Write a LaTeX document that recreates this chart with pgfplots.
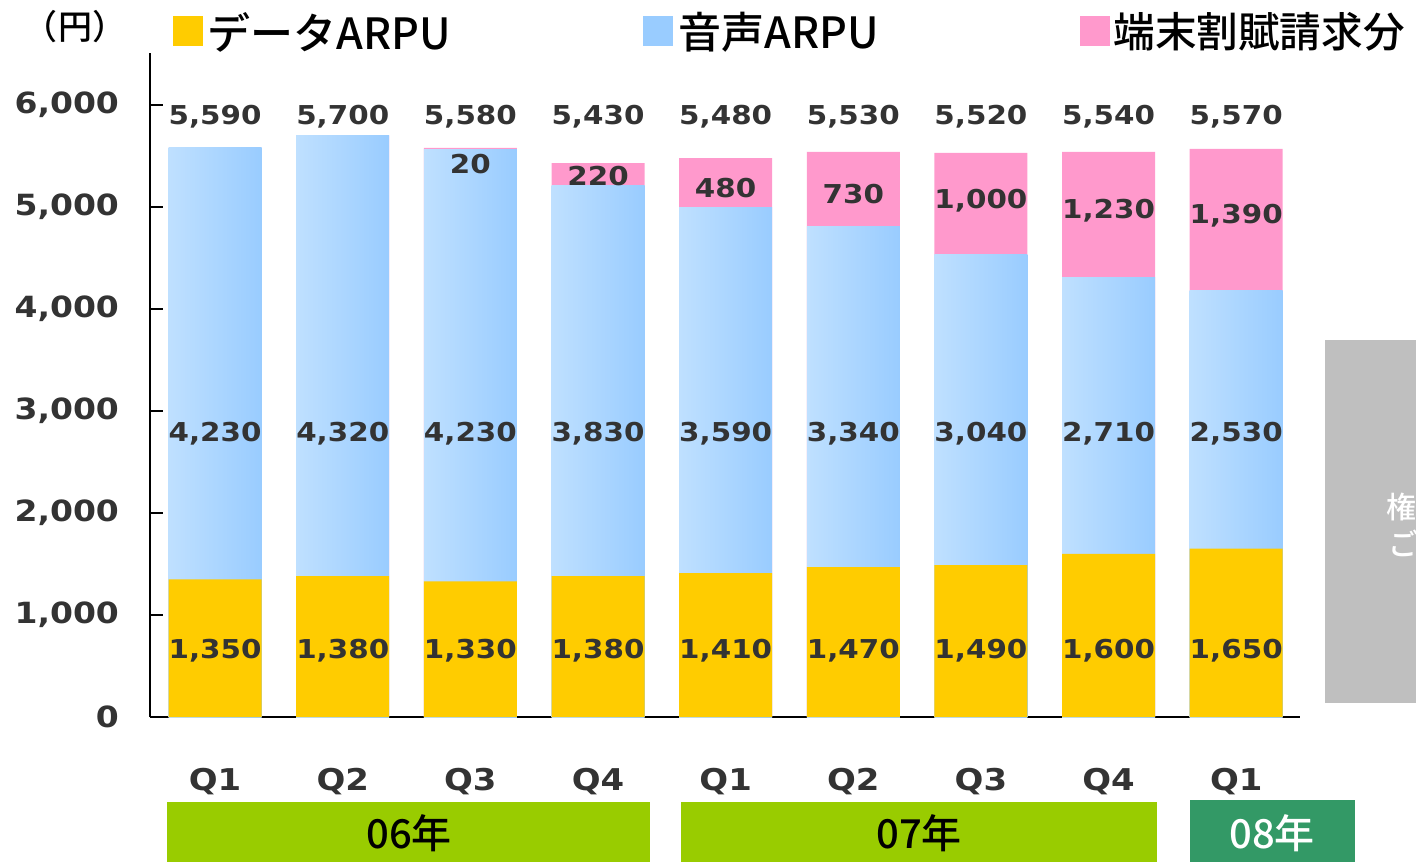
\documentclass[border=0pt]{standalone}
\usepackage{pgfplots}
\pgfplotsset{compat=1.18}
\usepackage{fontspec}
\setmainfont{DejaVu Sans}
\newfontfamily\jp{Noto Sans CJK JP Medium}
\newfontfamily\numfont{DejaVu Sans}[FakeStretch=1.13]
\definecolor{dataY}{HTML}{FFCC00}
\definecolor{voiceL}{HTML}{BFE0FF}
\definecolor{voiceM}{HTML}{B6DAFF}
\definecolor{voiceR}{HTML}{99CCFF}
\definecolor{pinkC}{HTML}{FF99CC}
\definecolor{txt}{HTML}{333333}
\definecolor{bandA}{HTML}{99CC00}
\definecolor{bandB}{HTML}{339966}
\definecolor{grayR}{HTML}{BFBFBF}
\pgfplotsset{vbar/.style={draw=none, left color=voiceL, middle color=voiceM, right color=voiceR}}
\begin{document}
\begin{tikzpicture}
\useasboundingbox (0,0) rectangle (708pt,430.5pt);
% gray box at right
\fill[grayR] (662.5pt,79pt) rectangle (720pt,260.5pt);
\node[anchor=west, text=white, font=\jp\fontsize{15}{18}\selectfont, inner sep=0pt] at (693pt,177pt) {権};
\node[anchor=west, text=white, font=\jp\fontsize{15}{18}\selectfont, inner sep=0pt] at (694pt,159pt) {ご};
\begin{axis}[
  at={(75pt,72pt)}, anchor=south west, scale only axis,
  width=575pt, height=332pt,
  xmin=-0.51, xmax=8.5, ymin=0, ymax=6510,
  ybar, bar shift=0pt, bar width=46.5pt,
  axis x line*=bottom, axis y line*=left,
  x axis line style={-, line width=1.2pt, black},
  y axis line style={-, line width=0.8pt, black},
  ytick={0,1000,2000,3000,4000,5000,6000},
  /pgf/number format/1000 sep={,},
  /pgf/number format/assume math mode=true,
  yticklabel style={font=\numfont\bfseries\fontsize{14.6}{16}\selectfont, text=txt, xshift=-12pt},
  ytick style={line width=0.8pt, black},
  tick align=inside, major tick length=6.5pt,
  xtick={0,1,2,3,4,5,6,7,8},
  xticklabels={Q1,Q2,Q3,Q4,Q1,Q2,Q3,Q4,Q1},
  xtick style={draw=none},
  xticklabel style={font=\numfont\bfseries\fontsize{15}{17}\selectfont, text=txt, yshift=-22pt},
]
% top of each bar: data + voice + handset instalment (pink shows above the voice part)
\addplot[fill=pinkC, draw=none] coordinates {(0,5580) (1,5700) (2,5580) (3,5430) (4,5480) (5,5540) (6,5530) (7,5540) (8,5570)};
% data + voice, one plot per bar so that each bar has its own shading
\addplot[vbar] coordinates {(0,5580)};
\addplot[vbar] coordinates {(1,5700)};
\addplot[vbar] coordinates {(2,5560)};
\addplot[vbar] coordinates {(3,5210)};
\addplot[vbar] coordinates {(4,5000)};
\addplot[vbar] coordinates {(5,4810)};
\addplot[vbar] coordinates {(6,4530)};
\addplot[vbar] coordinates {(7,4310)};
\addplot[vbar] coordinates {(8,4180)};
% data ARPU
\addplot[fill=dataY, draw=none] coordinates {(0,1350) (1,1380) (2,1330) (3,1380) (4,1410) (5,1470) (6,1490) (7,1600) (8,1650)};
\end{axis}
\begin{axis}[
  at={(75pt,72pt)}, anchor=south west, scale only axis,
  width=575pt, height=332pt,
  xmin=-0.51, xmax=8.5, ymin=0, ymax=6510, hide axis,
]
\addplot[only marks, mark size=0pt, nodes near coords, point meta=explicit symbolic,
  every node near coord/.append style={anchor=center, font=\numfont\bfseries\fontsize{13}{15}\selectfont, text=txt}]
  table[meta=lab] {
x y lab
0 5890 5,590
1 5890 5,700
2 5890 5,580
3 5890 5,430
4 5890 5,480
5 5890 5,530
6 5890 5,520
7 5890 5,540
8 5890 5,570
0 2780 4,230
1 2780 4,320
2 2780 4,230
3 2780 3,830
4 2780 3,590
5 2780 3,340
6 2780 3,040
7 2780 2,710
8 2780 2,530
0 650 1,350
1 650 1,380
2 650 1,330
3 650 1,380
4 650 1,410
5 650 1,470
6 650 1,490
7 650 1,600
8 650 1,650
2 5420 20
3 5300 220
4 5190 480
5 5130 730
6 5060 1,000
7 4960 1,230
8 4910 1,390
};
\end{axis}
% legend
\fill[dataY] (86.5pt,407.5pt) rectangle (101.5pt,422.5pt);
\node[anchor=west, inner sep=0pt, font=\jp\fontsize{21.5}{26}\selectfont] at (103.5pt,414.5pt) {データARPU};
\fill[voiceR] (321.5pt,407.5pt) rectangle (336.5pt,422.5pt);
\node[anchor=west, inner sep=0pt, font=\jp\fontsize{21.5}{26}\selectfont] at (339pt,414.5pt) {音声ARPU};
\fill[pinkC] (540pt,407.5pt) rectangle (555pt,422.5pt);
\node[anchor=west, inner sep=0pt, font=\jp\fontsize{20.8}{26}\selectfont] at (556.5pt,414.5pt) {端末割賦請求分};
\node[font=\jp\fontsize{17}{20}\selectfont] at (37.5pt,417pt) {（円）};
% year bands
\fill[bandA] (83.5pt,-1pt) rectangle (325pt,29.5pt);
\node[font=\jp\fontsize{20}{22}\selectfont] at (204.5pt,14pt) {06年};
\fill[bandA] (340.5pt,-1pt) rectangle (578.5pt,29.5pt);
\node[font=\jp\fontsize{20}{22}\selectfont] at (459.5pt,14pt) {07年};
\fill[bandB] (595pt,-1pt) rectangle (677.5pt,30.5pt);
\node[font=\jp\fontsize{20}{22}\selectfont, text=white] at (636pt,14pt) {08年};
\end{tikzpicture}
\end{document}
